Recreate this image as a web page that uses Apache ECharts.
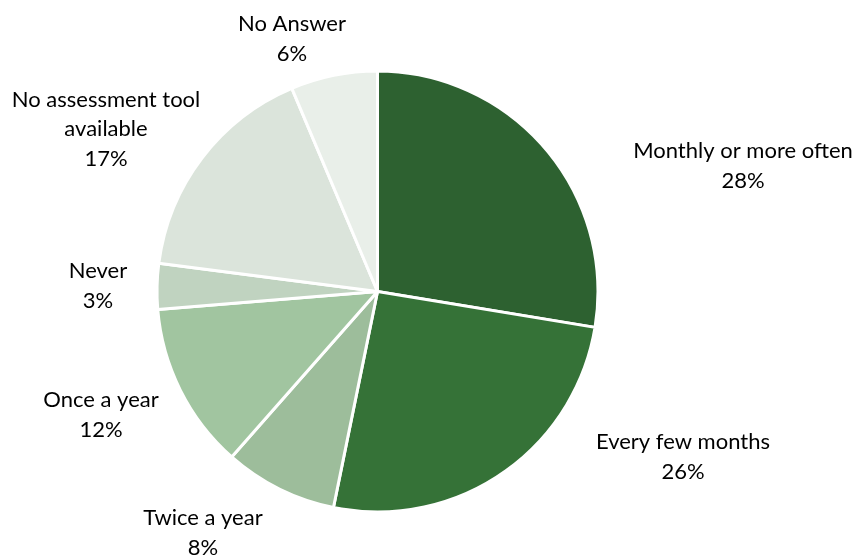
<!DOCTYPE html>
<html>
<head>
<meta charset="utf-8">
<script src="https://cdn.jsdelivr.net/npm/echarts@6/dist/echarts.min.js"></script>
<style>
  html, body { margin: 0; padding: 0; background: #ffffff; }
  #chart { width: 856px; height: 557px; }
</style>
</head>
<body>
<div id="chart"></div>
<script>
// Assessment frequency shares (percent), clockwise from 12 o'clock
const categories = [
  'Monthly or more often',
  'Every few months',
  'Twice a year',
  'Once a year',
  'Never',
  'No assessment tool\navailable',
  'No Answer'
];
const shares = [27.6, 25.6, 8.3, 12.2, 3.35, 16.6, 6.35];
const sliceColors = ['#2d6130', '#357237', '#9dbd9b', '#a1c5a0', '#c0d3c0', '#dbe4db', '#e9efe9'];

// Label centre points (pixels) for each slice's caption
const labelAnchors = [
  [743, 166], [683, 457], [203, 533], [101, 415], [98, 286], [106, 129], [292, 39]
];

const chart = echarts.init(document.getElementById('chart'), null, { renderer: 'canvas' });

chart.setOption({
  animation: false,
  backgroundColor: '#ffffff',
  series: [{
    type: 'pie',
    center: [377.5, 291.5],
    radius: 220.5,
    startAngle: 90,
    clockwise: true,
    avoidLabelOverlap: false,
    itemStyle: { borderColor: '#ffffff', borderWidth: 3 },
    label: {
      show: true,
      position: 'outside',
      formatter: p => p.name + '\n' + Math.round(p.percent) + '%',
      fontFamily: 'Lato, "Open Sans", sans-serif',
      fontSize: 22,
      lineHeight: 29.5,
      color: '#000000',
      align: 'center'
    },
    labelLine: { show: false },
    labelLayout: params => {
      const a = labelAnchors[params.dataIndex];
      return { x: a[0], y: a[1], align: 'center', verticalAlign: 'middle' };
    },
    data: categories.map((name, i) => ({
      name: name,
      value: shares[i],
      itemStyle: { color: sliceColors[i] }
    }))
  }]
});
</script>
</body>
</html>
